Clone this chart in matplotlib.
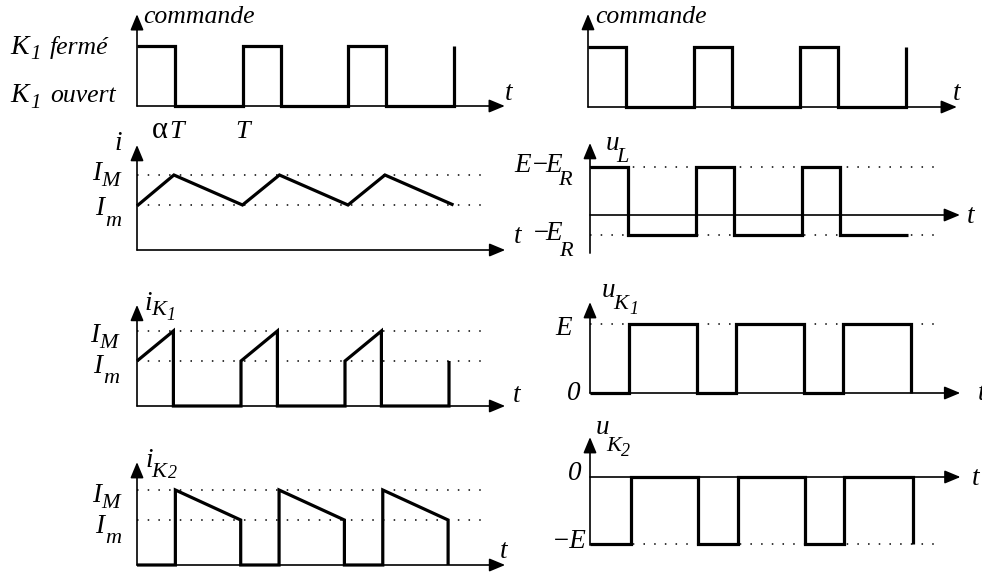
#!/usr/bin/env python3
"""Chronogrammes d'un hacheur série : commande, i, i_K1, i_K2, u_L, u_K1, u_K2."""

import matplotlib

matplotlib.use("Agg")
import matplotlib.pyplot as plt

plt.rcParams["font.family"] = ["Liberation Serif", "DejaVu Serif"]

W, H = 982, 572

# --- data (time in units of T, levels in arbitrary units) -----------------
cmd_t = [0, 0.36, 0.36, 1, 1, 1.36, 1.36, 2, 2, 2.36, 2.36, 3, 3]
cmd_v = [1, 1, 0, 0, 1, 1, 0, 0, 1, 1, 0, 0, 1]

i_levels = [1.5, 2.5]          # I_m, I_M
i_t = [0, 0.35, 1, 1.35, 2, 2.35, 3]
i_v = [1.47, 2.5, 1.5, 2.5, 1.5, 2.5, 1.5]

ik1_t = [0, 0.35, 0.35, 1, 1, 1.35, 1.35, 2, 2, 2.35, 2.35, 3, 3]
ik1_v = [1.5, 2.5, 0, 0, 1.5, 2.5, 0, 0, 1.5, 2.5, 0, 0, 1.5]

ik2_t = [0, 0.37, 0.37, 1, 1, 1.37, 1.37, 2, 2, 2.37, 2.37, 3, 3]
ik2_v = [0, 0, 2.5, 1.5, 0, 0, 2.5, 1.5, 0, 0, 2.5, 1.5, 0]

ul_levels = [1.6, -0.67]       # E - E_R, -E_R
ul_t = [0, 0.36, 0.36, 1, 1, 1.36, 1.36, 2, 2, 2.36, 2.36, 3]
ul_v = [1.6, 1.6, -0.67, -0.67, 1.6, 1.6, -0.67, -0.67, 1.6, 1.6, -0.67, -0.67]

uk1_levels = [2.3]             # E
uk1_t = [0, 0.36, 0.36, 1, 1, 1.36, 1.36, 2, 2, 2.36, 2.36, 3, 3]
uk1_v = [0, 0, 2.3, 2.3, 0, 0, 2.3, 2.3, 0, 0, 2.3, 2.3, 0]

uk2_levels = [-2.23]           # -E
uk2_t = [0, 0.38, 0.38, 1, 1, 1.37, 1.37, 2, 2, 2.36, 2.36, 3, 3]
uk2_v = [-2.23, -2.23, 0, 0, -2.23, -2.23, 0, 0, -2.23, -2.23, 0, 0, -2.23]

# --- layout: origin px, px per T, px per unit, axis extents, dotted end -----
PANELS = {
    "cmdL": dict(x0=137, y0=106, tpx=105.7, upx=60, xmax=3.48, ymin=0, ymax=1.53, dot=None),
    "cmdR": dict(x0=588, y0=107, tpx=106, upx=60, xmax=3.48, ymin=0, ymax=1.55, dot=None),
    "i": dict(x0=137, y0=250, tpx=105.5, upx=30, xmax=3.49, ymin=0, ymax=3.5, dot=3.30),
    "uL": dict(x0=590, y0=215, tpx=106, upx=30, xmax=3.49, ymin=-1.27, ymax=2.4, dot=3.28),
    "iK1": dict(x0=137, y0=406, tpx=104, upx=30, xmax=3.54, ymin=0, ymax=3.37, dot=3.35),
    "uK1": dict(x0=590, y0=393, tpx=107, upx=30, xmax=3.46, ymin=0, ymax=3.03, dot=3.25),
    "iK2": dict(x0=137, y0=565, tpx=103.7, upx=30, xmax=3.55, ymin=0, ymax=3.43, dot=3.35),
    "uK2": dict(x0=590, y0=477, tpx=107.7, upx=30, xmax=3.44, ymin=-2.27, ymax=1.33, dot=3.23),
}

WAVE_LW = 2.3
AXIS_LW = 1.2
ARROW = dict(arrowstyle="-|>,head_length=0.6,head_width=0.25", mutation_scale=16,
             lw=AXIS_LW, color="k", shrinkA=0, shrinkB=0)

fig = plt.figure(figsize=(W / 100, H / 100), dpi=100)


def make_panel(spec):
    left = spec["x0"] / W
    bottom = 1 - (spec["y0"] - spec["ymin"] * spec["upx"]) / H
    width = spec["xmax"] * spec["tpx"] / W
    height = (spec["ymax"] - spec["ymin"]) * spec["upx"] / H
    ax = fig.add_axes((left, bottom, width, height))
    ax.set_xlim(0, spec["xmax"])
    ax.set_ylim(spec["ymin"], spec["ymax"])
    ax.axis("off")
    ax.annotate("", xy=(spec["xmax"], 0), xytext=(0, 0), arrowprops=ARROW)
    ax.annotate("", xy=(0, spec["ymax"]), xytext=(0, spec["ymin"]), arrowprops=ARROW)
    return ax


def dotted(ax, spec, levels):
    for lv in levels:
        ax.plot([0, spec["dot"]], [lv, lv], color="k", lw=1.1,
                linestyle=(0, (1, 6)), clip_on=False)


def wave(ax, t, v):
    ax.plot(t, v, color="k", lw=WAVE_LW, solid_joinstyle="miter",
            solid_capstyle="butt", clip_on=False)


axes = {name: make_panel(spec) for name, spec in PANELS.items()}

wave(axes["cmdL"], cmd_t, cmd_v)
wave(axes["cmdR"], cmd_t, cmd_v)

dotted(axes["i"], PANELS["i"], i_levels)
wave(axes["i"], i_t, i_v)

dotted(axes["iK1"], PANELS["iK1"], i_levels)
wave(axes["iK1"], ik1_t, ik1_v)

dotted(axes["iK2"], PANELS["iK2"], i_levels)
wave(axes["iK2"], ik2_t, ik2_v)

dotted(axes["uL"], PANELS["uL"], ul_levels)
wave(axes["uL"], ul_t, ul_v)

dotted(axes["uK1"], PANELS["uK1"], uk1_levels)
wave(axes["uK1"], uk1_t, uk1_v)

dotted(axes["uK2"], PANELS["uK2"], uk2_levels)
wave(axes["uK2"], uk2_t, uk2_v)


# --- labels: pieces placed at (left px, baseline px), italic serif ----------
BIG, SUB, SUB2 = 19.5, 16, 13


def put(px, py, s, size=BIG, style="italic"):
    fig.text(px / W, 1 - py / H, s, ha="left", va="baseline",
             fontsize=size, style=style)


def label(pieces):
    for s, px, py, size in pieces:
        put(px, py, s, size)


put(143, 23, "commande", size=18.5)
put(595, 23, "commande", size=18.5)
label([("K", 10, 54, 20), ("1", 30, 59, 15), ("fermé", 50, 54, 18.5)])
label([("K", 10, 102, 20), ("1", 30, 108, 15), ("ouvert", 50, 102, 18.5)])
put(152, 138, "α", size=22, style="normal")
put(169, 138, "T", size=19)
put(235, 138, "T", size=19)
put(505, 100, "t")
put(953, 100, "t")

# i
put(114, 150, "i")
label([("I", 92, 180, BIG), ("M", 101, 186, SUB)])
label([("I", 95, 215, BIG), ("m", 105, 226, SUB)])
put(514, 243, "t")

# u_L
label([("u", 606, 150, BIG), ("L", 616, 162, SUB)])
label([("E", 514, 172, BIG), ("−", 531, 172, BIG), ("E", 545, 172, BIG),
       ("R", 558, 185, SUB)])
label([("−", 532, 240, BIG), ("E", 545, 240, BIG), ("R", 559, 256, SUB)])
put(967, 223, "t")

# i_K1
label([("i", 144, 310, BIG), ("K", 151, 315, SUB), ("1", 166, 320, SUB2)])
label([("I", 90, 342, BIG), ("M", 99, 348, SUB)])
label([("I", 93, 373, BIG), ("m", 103, 383, SUB)])
put(513, 402, "t")

# u_K1
label([("u", 602, 297, BIG), ("K", 613, 309, SUB), ("1", 629, 314, SUB2)])
put(555, 335, "E")
put(567, 400, "0")
put(978, 400, "t")

# i_K2
label([("i", 145, 467, BIG), ("K", 151, 477, SUB), ("2", 168, 478, SUB2)])
label([("I", 92, 502, BIG), ("M", 101, 508, SUB)])
label([("I", 95, 533, BIG), ("m", 105, 543, SUB)])
put(500, 558, "t")

# u_K2
label([("u", 596, 434, BIG), ("K", 606, 451, SUB), ("2", 621, 456, SUB2)])
put(568, 480, "0")
put(552, 548, "−E")
put(972, 485, "t")

fig.savefig("out.png", dpi=100)
